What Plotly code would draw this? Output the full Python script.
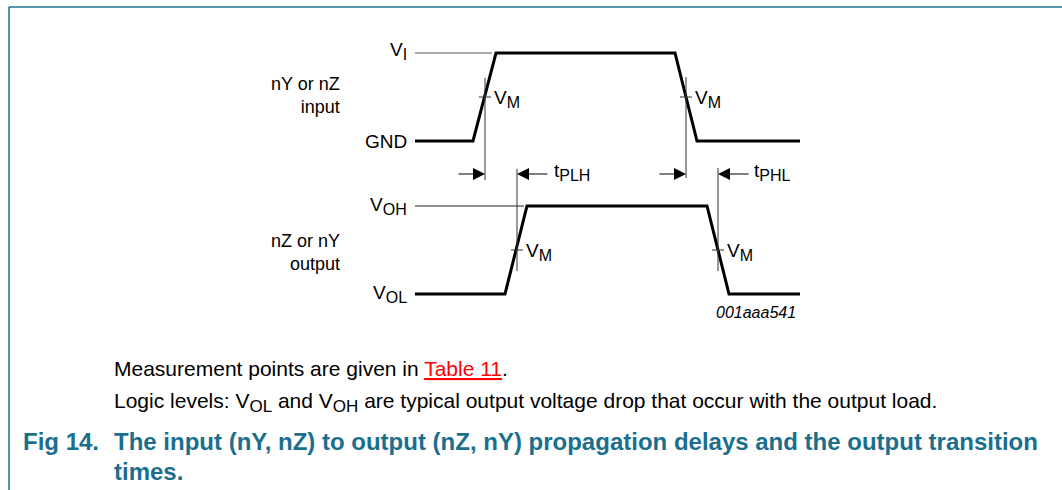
import plotly.graph_objects as go

# ---- data (pixel-space diagram coordinates) ----
# input waveform (nY or nZ input)
in_x = [415, 473, 496, 675, 697, 800]
in_y = [141, 141, 53, 53, 141, 141]
# output waveform (nZ or nY output)
out_x = [415, 505, 527, 707, 729, 800]
out_y = [294, 294, 206, 206, 294, 294]
# reference level lines
vi_line_x = [415, 492]
vi_line_y = [53, 53]
voh_line_x = [415, 524]
voh_line_y = [206, 206]
# VM measurement markers: x position, top and bottom of vertical line, y of tick
vm_x = [485, 686, 517, 718]
vm_top = [78, 77, 169, 168]
vm_bot = [180, 178, 271, 271]
vm_tick_y = [97, 97, 250, 250]
# timing arrows: (tip x, tail x) at arrow row
arrow_tip = [485, 686, 517, 718]
arrow_tail = [457, 658, 549, 750]
arrow_row = 174

FONT = "Liberation Sans, Arial, sans-serif"
TEAL = "#1b6f8d"


def sub(s, px=16):
    return "<sub><span style='font-size:%dpx'>%s</span></sub>" % (px, s)


level_labels = ["V" + sub("I"), "GND", "V" + sub("OH"), "V" + sub("OL")]
level_label_y = [51, 141, 206, 294]
signal_labels = ["nY or nZ<br>input", "nZ or nY<br>output"]
signal_label_y = [95, 252]
timing_labels = ["t" + sub("PLH"), "t" + sub("PHL")]
timing_label_x = [552, 752]

fig = go.Figure()

fig.add_trace(go.Scatter(x=in_x, y=in_y, mode="lines",
                         line=dict(color="black", width=3), hoverinfo="skip"))
fig.add_trace(go.Scatter(x=out_x, y=out_y, mode="lines",
                         line=dict(color="black", width=3), hoverinfo="skip"))
fig.add_trace(go.Scatter(x=vi_line_x, y=vi_line_y, mode="lines",
                         line=dict(color="#555555", width=1), hoverinfo="skip"))
fig.add_trace(go.Scatter(x=voh_line_x, y=voh_line_y, mode="lines",
                         line=dict(color="#222222", width=1), hoverinfo="skip"))

for x, t, b, ty in zip(vm_x, vm_top, vm_bot, vm_tick_y):
    fig.add_trace(go.Scatter(x=[x, x], y=[t, b], mode="lines",
                             line=dict(color="#333333", width=1), hoverinfo="skip"))
    fig.add_trace(go.Scatter(x=[x - 6, x + 6], y=[ty, ty], mode="lines",
                             line=dict(color="#333333", width=1), hoverinfo="skip"))
    fig.add_annotation(x=x + 7, y=ty + 2, text="V" + sub("M"), showarrow=False,
                       xanchor="left", yanchor="middle",
                       font=dict(family=FONT, size=19, color="black"))

for tip, tail in zip(arrow_tip, arrow_tail):
    fig.add_annotation(x=tip, y=arrow_row, ax=tail, ay=arrow_row,
                       xref="x", yref="y", axref="x", ayref="y",
                       showarrow=True, arrowhead=2, arrowsize=2,
                       arrowwidth=1.2, arrowcolor="black", text="")

for lbl, y in zip(level_labels, level_label_y):
    fig.add_annotation(x=409, y=y, text=lbl, showarrow=False, xanchor="right",
                       yanchor="middle", font=dict(family=FONT, size=19, color="black"))

for lbl, y in zip(signal_labels, signal_label_y):
    fig.add_annotation(x=342, y=y, text=lbl, showarrow=False, xanchor="right",
                       yanchor="middle", align="right",
                       font=dict(family=FONT, size=18, color="black"))

for lbl, x in zip(timing_labels, timing_label_x):
    fig.add_annotation(x=x, y=arrow_row - 2, text=lbl, showarrow=False, xanchor="left",
                       yanchor="middle", font=dict(family=FONT, size=19, color="black"))

fig.add_annotation(x=756, y=312, text="<i>001aaa541</i>", showarrow=False,
                   xanchor="center", yanchor="middle",
                   font=dict(family=FONT, size=16, color="black"))

fig.add_annotation(x=112, y=368, xanchor="left", yanchor="middle", showarrow=False,
                   text="Measurement points are given in <span style='color:#ff0000'><u>Table 11</u></span>.",
                   font=dict(family=FONT, size=21, color="black"))
fig.add_annotation(x=112, y=402, xanchor="left", yanchor="middle", showarrow=False,
                   text="Logic levels: V" + sub("OL", 17) + " and V" + sub("OH", 17)
                   + " are typical output voltage drop that occur with the output load.",
                   font=dict(family=FONT, size=21, color="black"))
fig.add_annotation(x=21, y=441, xanchor="left", yanchor="middle", showarrow=False,
                   text="<b>Fig 14.</b>",
                   font=dict(family=FONT, size=24, color=TEAL))
fig.add_annotation(x=112, y=441, xanchor="left", yanchor="middle", showarrow=False,
                   text="<b>The input (nY, nZ) to output (nZ, nY) propagation delays and the output transition</b>",
                   font=dict(family=FONT, size=24, color=TEAL))
fig.add_annotation(x=112, y=471, xanchor="left", yanchor="middle", showarrow=False,
                   text="<b>times.</b>",
                   font=dict(family=FONT, size=24, color=TEAL))

# frame lines
fig.add_shape(type="line", xref="x", yref="y", x0=9, x1=1062, y0=7, y1=7,
              line=dict(color=TEAL, width=1.5))
fig.add_shape(type="line", xref="x", yref="y", x0=9, x1=9, y0=7, y1=490,
              line=dict(color=TEAL, width=1.5))

fig.update_layout(
    width=1062, height=490,
    margin=dict(l=0, r=0, t=0, b=0),
    paper_bgcolor="white", plot_bgcolor="white",
    showlegend=False,
    xaxis=dict(range=[0, 1062], visible=False, fixedrange=True),
    yaxis=dict(range=[490, 0], visible=False, fixedrange=True),
)

fig.write_html("out.html", config={"displayModeBar": False},
               post_script="document.body.style.margin='0';document.body.style.overflow='hidden';")
